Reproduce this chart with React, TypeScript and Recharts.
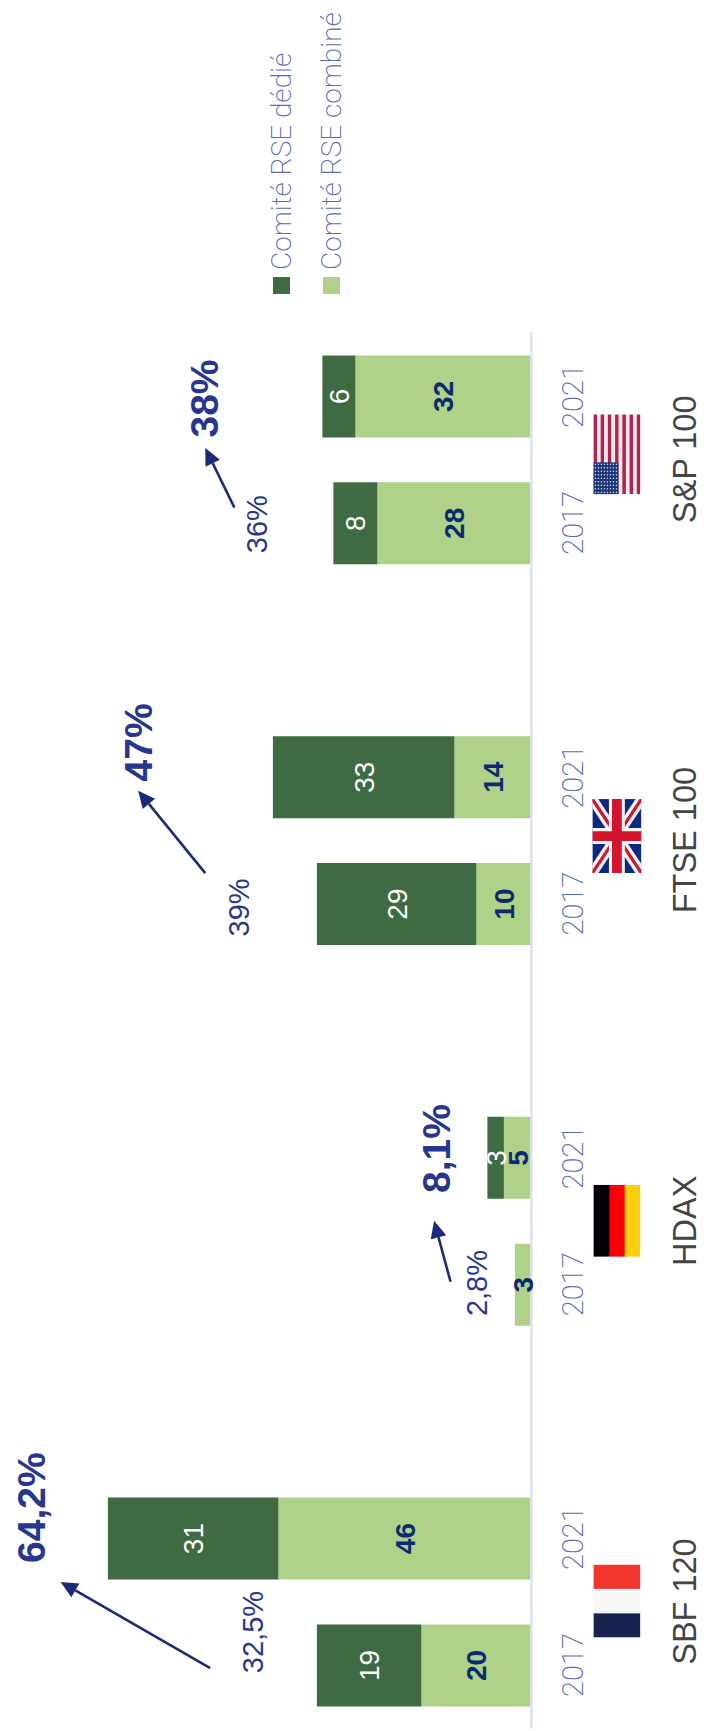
import { Bar, ComposedChart, LabelList, Legend, ReferenceDot, ReferenceLine, XAxis, YAxis } from 'recharts'

const indices = ['SBF 120', 'HDAX', 'FTSE 100', 'S&P 100']
const years = ['2017', '2021']
const dedie = [19, 31, 0, 3, 29, 33, 8, 6]
const combine = [20, 46, 3, 5, 10, 14, 28, 32]

// evolution labels, in [slot, value], a slot being one of the 11 category bands
const fromLabels = ['32,5%', '2,8%', '39%', '36%']
const toLabels = ['64,2%', '8,1%', '47%', '38%']
const fromSpots = [[0.76, 50.6], [3.51, 9.9], [6.47, 53.2], [9.49, 50]]
const toSpots = [[1.74, 91], [4.57, 17.4], [7.77, 71.5], [10.48, 59.5]]
const arrowStarts = [[0.476, 58.4], [3.52, 14.7], [6.74, 59.3], [9.62, 54]]
const arrowEnds = [[1.155, 85.6], [4.0, 17.7], [7.39, 71.5], [10.09, 59.3]]

const THEME = {
  dark: '#3f6b42',
  light: '#afd188',
  navy: '#0b2a72',
  blue: '#27368f',
  arrow: '#1c2a7a',
  axis: '#dde0f6',
  year: '#5a6cb8',
  grey: '#444444',
}

const SANS = '"Liberation Sans", Arial, sans-serif'
const THIN = 'Roboto, sans-serif'

const data: any[] = []
indices.forEach((name, i) => {
  years.forEach((year, j) => {
    const k = i * 2 + j
    data.push({ slot: `${name}|${year}`, dedie: dedie[k] || null, combine: combine[k] })
  })
  if (i < indices.length - 1) data.push({ slot: `gap${i}` })
})

// the hidden numeric axis runs over the row indexes, 0 to 10, across the full width
const toAxis = (slot: number) => (slot * 10) / 11

const stripes = [0, 1, 2, 3, 4, 5, 6, 7, 8, 9, 10, 11, 12]
const starRows = [0, 1, 2, 3, 4, 5, 6, 7]
const starCols = [0, 1, 2, 3, 4, 5, 6, 7, 8]

function Flag({ name, x, y }: { name: string; x: number; y: number }) {
  if (name === 'SBF 120') {
    return (
      <svg x={x - 36} y={y} width={73} height={47} viewBox="0 0 3 1" preserveAspectRatio="none">
        <rect x={0} width={1} height={1} fill="#17224f" />
        <rect x={1} width={1} height={1} fill="#f7f7f7" />
        <rect x={2} width={1} height={1} fill="#f2362e" />
      </svg>
    )
  }
  if (name === 'HDAX') {
    return (
      <svg x={x - 36} y={y} width={72} height={47} viewBox="0 0 1 3" preserveAspectRatio="none">
        <rect y={0} width={1} height={1.05} fill="#050006" />
        <rect y={1.05} width={1} height={1} fill="#fb0007" />
        <rect y={2} width={1} height={1} fill="#ffce0a" />
      </svg>
    )
  }
  if (name === 'FTSE 100') {
    return (
      <svg x={x - 33} y={y - 1} width={74} height={49} viewBox="0 0 60 40" preserveAspectRatio="none">
        <rect width={60} height={40} fill="#0a2a80" />
        <path d="M0 0L60 40M60 0L0 40" stroke="#f4f4f4" strokeWidth={8} />
        <path d="M0 0L60 40M60 0L0 40" stroke="#d3142f" strokeWidth={2.6} />
        <path d="M30 0V40M0 20H60" stroke="#f4f4f4" strokeWidth={13} />
        <path d="M30 0V40M0 20H60" stroke="#d3142f" strokeWidth={8} />
      </svg>
    )
  }
  return (
    <svg x={x - 35} y={y} width={80} height={47} viewBox="0 0 80 47" preserveAspectRatio="none">
      {stripes.map((s) => (
        <rect key={s} y={(s * 47) / 13} width={80} height={47 / 13} fill={s % 2 ? '#f4e9ee' : '#b3234d'} />
      ))}
      <rect width={32} height={25} fill="#1a3478" />
      {starRows.map((r) =>
        starCols.map((c) => <circle key={`${r}-${c}`} cx={2 + c * 3.5} cy={2 + r * 3} r={0.8} fill="#c9d3ec" />),
      )}
    </svg>
  )
}

const SlotTick = ({ x, y, payload }: any) => {
  const [name, year] = String(payload.value).split('|')
  if (!year) return null
  const first = year === years[0]
  return (
    <g>
      <text x={x} y={y + 44} textAnchor="middle" fontFamily={THIN} fontWeight={200} fontSize={29} fill={THEME.year}>
        {year}
      </text>
      {first && <Flag name={name} x={x + 63.5} y={y + 54} />}
      {first && (
        <text x={x + 63.5} y={y + 157} textAnchor="middle" fontFamily={SANS} fontSize={32.5} fill={THEME.grey}>
          {name}
        </text>
      )}
    </g>
  )
}

const ArrowShape = ({ x1, y1, x2, y2 }: any) => {
  const a = Math.atan2(y2 - y1, x2 - x1)
  const len = 17
  const w = 8
  const bx = x2 - len * Math.cos(a)
  const by = y2 - len * Math.sin(a)
  const nx = -Math.sin(a) * w
  const ny = Math.cos(a) * w
  return (
    <g>
      <line x1={x1} y1={y1} x2={bx} y2={by} stroke={THEME.arrow} strokeWidth={2.6} />
      <polygon points={`${x2},${y2} ${bx + nx},${by + ny} ${bx - nx},${by - ny}`} fill={THEME.arrow} />
    </g>
  )
}

const LegendRows = ({ payload }: any) => (
  <div>
    {[...(payload || [])].reverse().map((entry: any) => (
      <div key={entry.value} style={{ display: 'flex', alignItems: 'center', height: 50 }}>
        <span style={{ width: 17, height: 17, background: entry.color, marginRight: 7 }} />
        <span style={{ fontFamily: THIN, fontWeight: 200, fontSize: 28, color: THEME.year, whiteSpace: 'nowrap' }}>
          {entry.value}
        </span>
      </div>
    ))}
  </div>
)

export default function App() {
  return (
    <div style={{ position: 'absolute', left: 0, top: 0, width: 707, height: 1731, overflow: 'hidden', background: '#fff' }}>
      <div
        style={{
          position: 'absolute',
          left: 0,
          top: 0,
          width: 1731,
          height: 707,
          transformOrigin: '0 0',
          transform: 'translate(0px, 1731px) rotate(-90deg)',
        }}
      >
        <ComposedChart width={1731} height={707} data={data} margin={{ top: 3.4, right: 332.5, bottom: 0, left: 2.5 }}>
          <XAxis
            dataKey="slot"
            interval={0}
            height={175.6}
            tickLine={false}
            axisLine={{ stroke: THEME.axis, strokeWidth: 2.5 }}
            tick={<SlotTick />}
          />
          <XAxis xAxisId="n" type="number" domain={[0, 10]} hide />
          <YAxis hide domain={[0, 96]} />
          <Legend
            layout="vertical"
            align="center"
            verticalAlign="middle"
            content={<LegendRows />}
            wrapperStyle={{ left: 1437, top: 256, width: 294, bottom: 'auto' }}
          />
          <Bar dataKey="combine" name="Comité RSE combiné" stackId="a" fill={THEME.light} barSize={82} isAnimationActive={false}>
            <LabelList dataKey="combine" position="center" fill={THEME.navy} fontFamily={SANS} fontWeight={700} fontSize={28} />
          </Bar>
          <Bar dataKey="dedie" name="Comité RSE dédié" stackId="a" fill={THEME.dark} barSize={82} isAnimationActive={false}>
            <LabelList dataKey="dedie" position="center" fill="#ffffff" fontFamily={SANS} fontSize={28} />
          </Bar>
          {indices.map((name, i) => (
            <ReferenceLine
              key={name}
              xAxisId="n"
              ifOverflow="visible"
              segment={[
                { x: toAxis(arrowStarts[i][0]), y: arrowStarts[i][1] },
                { x: toAxis(arrowEnds[i][0]), y: arrowEnds[i][1] },
              ]}
              shape={<ArrowShape />}
            />
          ))}
          {fromLabels.map((label, i) => (
            <ReferenceDot
              key={label}
              xAxisId="n"
              x={toAxis(fromSpots[i][0])}
              y={fromSpots[i][1]}
              r={0}
              ifOverflow="visible"
              label={{ value: label, position: 'center', fill: THEME.blue, fontFamily: SANS, fontSize: 29 }}
            />
          ))}
          {toLabels.map((label, i) => (
            <ReferenceDot
              key={label}
              xAxisId="n"
              x={toAxis(toSpots[i][0])}
              y={toSpots[i][1]}
              r={0}
              ifOverflow="visible"
              label={{ value: label, position: 'center', fill: THEME.blue, fontFamily: SANS, fontSize: 39, fontWeight: 700 }}
            />
          ))}
        </ComposedChart>
      </div>
    </div>
  )
}
